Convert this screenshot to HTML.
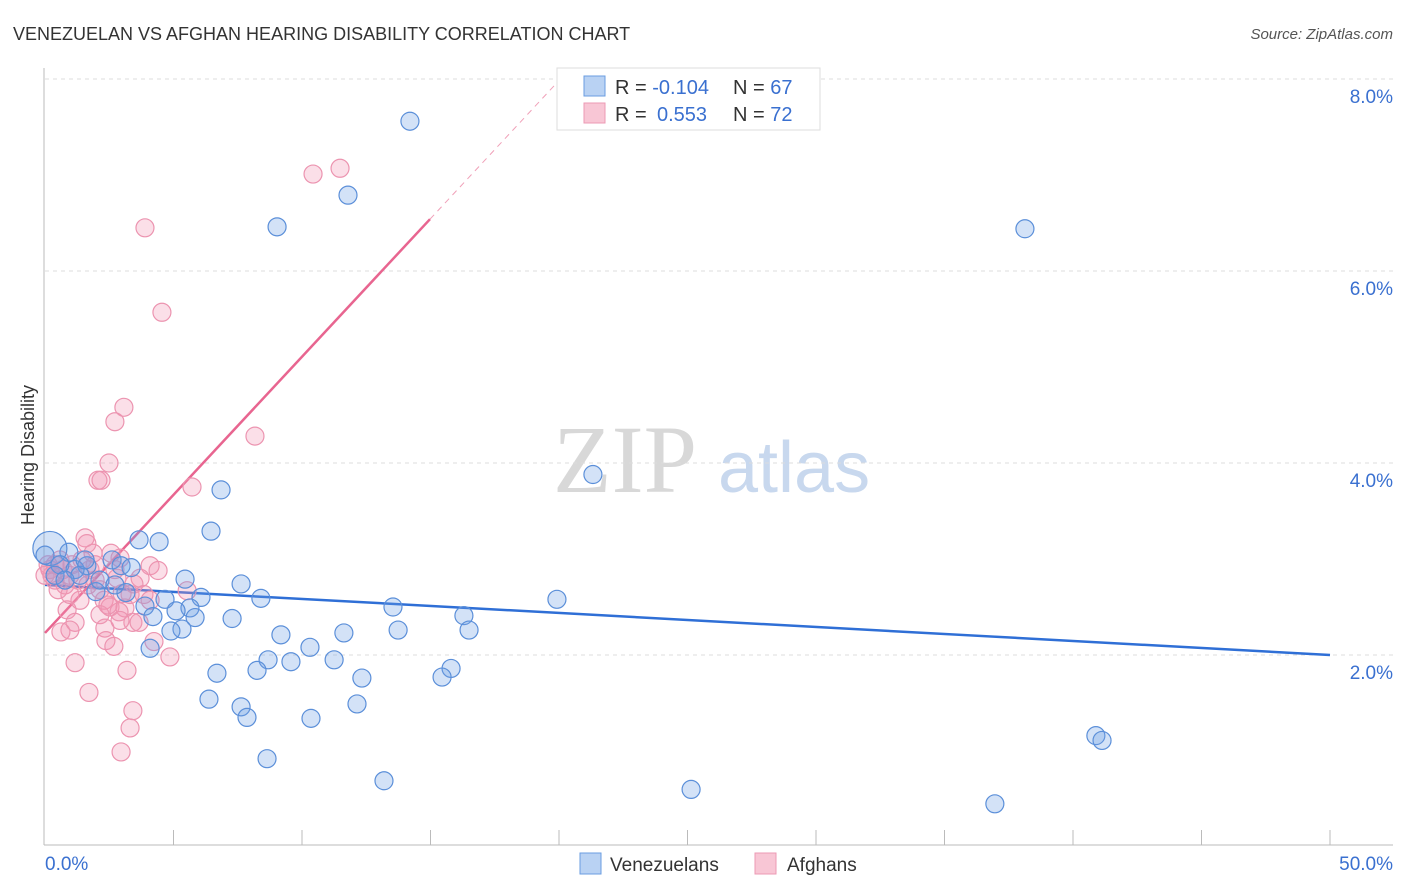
<!DOCTYPE html>
<html><head><meta charset="utf-8"><style>
body{margin:0;background:#fff;font-family:"Liberation Sans",sans-serif;}
svg{display:block}
</style></head><body>
<svg id="chart" width="1406" height="892">
<text x="13" y="40" font-size="18" fill="#333">VENEZUELAN VS AFGHAN HEARING DISABILITY CORRELATION CHART</text>
<text x="1393" y="39" font-size="15" fill="#555" font-style="italic" text-anchor="end">Source: ZipAtlas.com</text>
<g>
<text x="553" y="492" font-size="96" font-family="Liberation Serif,serif" fill="#d8d8d8">ZIP</text>
<text x="718" y="492" font-size="72" fill="#c8d8ee">atlas</text>
</g>
<g id="grid"></g>
<g id="axes"></g>
<g id="lines"></g>
<g id="pts"></g>
<text transform="translate(34,455) rotate(-90)" font-size="18" fill="#333" text-anchor="middle">Hearing Disability</text>
<g>
<rect x="557" y="68" width="263" height="62" fill="#fff" stroke="#ddd"/>
<rect x="584" y="76" width="21" height="20" fill="#b9d2f3" stroke="#6a9ce0"/>
<rect x="584" y="103" width="21" height="20" fill="#f8c6d5" stroke="#ec9ab4"/>
<text x="615" y="94" font-size="20" fill="#333">R = <tspan fill="#3a70d0">-0.104</tspan></text>
<text x="733" y="94" font-size="20" fill="#333">N = <tspan fill="#3a70d0">67</tspan></text>
<text x="615" y="121" font-size="20" fill="#333">R = <tspan fill="#3a70d0" x="657">0.553</tspan></text>
<text x="733" y="121" font-size="20" fill="#333">N = <tspan fill="#3a70d0">72</tspan></text>
</g>
<g>
<rect x="580" y="853" width="21" height="21" fill="#b9d2f3" stroke="#6a9ce0"/>
<text x="610" y="871" font-size="19" fill="#333">Venezuelans</text>
<rect x="755" y="853" width="21" height="21" fill="#f8c6d5" stroke="#ec9ab4"/>
<text x="787" y="871" font-size="19" fill="#333">Afghans</text>
</g>
</svg>
<script>
const yTicks=[2,4,6,8];
const yTickLabels=["2.0%","4.0%","6.0%","8.0%"];
const xTickLabels=["0.0%","50.0%"];
const blueX=[14.2,11.79,9.03,38.13,21.32,6.85,6.46,3.66,4.44,0.93,2.61,2.96,3.35,1.63,5.45,7.63,1.98,3.15,4.67,6.07,8.4,19.92,3.89,5.64,5.1,13.54,4.2,5.84,7.28,16.3,5.33,4.9,11.63,13.74,16.5,9.18,4.09,10.31,8.68,9.57,11.25,6.69,8.25,15.8,15.45,12.33,6.38,7.63,12.14,7.86,10.35,40.89,41.13,8.64,13.19,25.14,36.96,0.19,0.58,1.17,1.36,0.39,2.14,2.72,0.78,1.56,0];
const blueY=[7.56,6.79,6.46,6.44,3.88,3.72,3.29,3.2,3.18,3.07,2.99,2.93,2.91,2.93,2.79,2.74,2.66,2.65,2.58,2.6,2.59,2.58,2.51,2.49,2.46,2.5,2.4,2.39,2.38,2.41,2.27,2.25,2.23,2.26,2.26,2.21,2.07,2.08,1.95,1.93,1.95,1.81,1.84,1.86,1.77,1.76,1.54,1.46,1.49,1.35,1.34,1.16,1.11,0.92,0.69,0.6,0.45,3.11,2.94,2.89,2.83,2.83,2.78,2.73,2.78,2.99,3.04];
const pinkX=[11.48,10.43,3.89,4.55,3.07,2.72,8.17,2.49,2.06,2.18,5.72,1.56,1.63,2.57,1.87,1.44,2.92,4.09,4.4,0.58,0.97,0.19,0.39,0.78,1.28,1.95,2.8,3.7,3.46,3.85,5.53,3.0,2.3,0.86,2.53,3.11,2.88,2.14,3.42,1.17,0.97,0.62,2.33,3.66,2.37,4.24,2.68,4.86,1.17,3.19,1.71,3.42,3.31,2.96,0.12,0.27,0.51,0.7,1.05,1.75,2.14,2.45,1.36,1.67,0.39,0,2.92,4.09,0.97,1.95,3.31,2.72];
const pinkY=[7.07,7.01,6.45,5.57,4.58,4.43,4.28,4.0,3.82,3.82,3.75,3.22,3.16,3.06,3.06,2.99,3.01,2.93,2.88,2.99,2.83,2.89,2.78,2.73,2.78,2.78,2.8,2.8,2.74,2.63,2.67,2.64,2.57,2.47,2.5,2.49,2.45,2.42,2.34,2.34,2.26,2.24,2.28,2.34,2.15,2.14,2.09,1.98,1.92,1.84,1.61,1.42,1.24,0.99,2.94,2.83,2.68,2.89,2.94,2.89,2.68,2.52,2.57,2.73,2.94,2.83,2.36,2.57,2.63,2.94,2.63,2.89];
const blueTrend=[2.73,2.0];
const pinkTrend=[2.23,0.2877];
const NS="http://www.w3.org/2000/svg";
const X0=45,X1=1330,Y0=847,PY=96;
const xs=v=>X0+v/50*(X1-X0);
const ys=v=>Y0-v*PY;
function mk(tag,attrs,parent){const e=document.createElementNS(NS,tag);for(const k in attrs)e.setAttribute(k,attrs[k]);document.getElementById(parent).appendChild(e);return e;}
yTicks.forEach((t,i)=>{
 const l=mk('line',{x1:45,x2:1393,y1:ys(t),y2:ys(t),stroke:'#ddd','stroke-dasharray':'4,4'},'grid');
 
 
 const tx=mk('text',{x:1393,y:ys(t)+24,'font-size':19,fill:'#3a70d0','text-anchor':'end'},'grid');
 tx.textContent=yTickLabels[i];
 
 
});
let a=mk('line',{x1:44,x2:44,y1:68,y2:845,stroke:'#bbb'},'axes');


a=mk('line',{x1:44,x2:1393,y1:845,y2:845,stroke:'#bbb'},'axes');


for(let i=1;i<=10;i++){const t=mk('line',{x1:xs(i*5),x2:xs(i*5),y1:830,y2:845,stroke:'#bbb'},'axes');
 
 }
[[0,'start',45],[50,'end',1393]].forEach((d,i)=>{const t=mk('text',{x:d[2],y:870,'font-size':19,fill:'#3a70d0','text-anchor':d[1]},'axes');t.textContent=xTickLabels[i];
 
 });
let ln=mk('line',{x1:xs(0),y1:ys(blueTrend[0]),x2:xs(50),y2:ys(blueTrend[1]),stroke:'#2f6fd6','stroke-width':2.5},'lines');


const pe=14.98,pend=19.92;
ln=mk('line',{x1:xs(0),y1:ys(pinkTrend[0]),x2:xs(pe),y2:ys(pinkTrend[0]+pinkTrend[1]*pe),stroke:'#e86590','stroke-width':2.5},'lines');


ln=mk('line',{x1:xs(pe),y1:ys(pinkTrend[0]+pinkTrend[1]*pe),x2:xs(pend),y2:ys(pinkTrend[0]+pinkTrend[1]*pend),stroke:'#f0a0b8','stroke-width':1,'stroke-dasharray':'6,5'},'lines');


pinkX.forEach((x,i)=>{const c=mk('circle',{cx:xs(x),cy:ys(pinkY[i]),r:9,fill:'rgba(242,150,180,0.3)',stroke:'#ec94b0','stroke-width':1.2},'pts');
 
 });
blueX.forEach((x,i)=>{const c=mk('circle',{cx:xs(x),cy:ys(blueY[i]),r:i==57?17:9,fill:'rgba(110,160,230,0.3)',stroke:'#5b8fd9','stroke-width':1.2},'pts');
 
 });
</script>
</body></html>
